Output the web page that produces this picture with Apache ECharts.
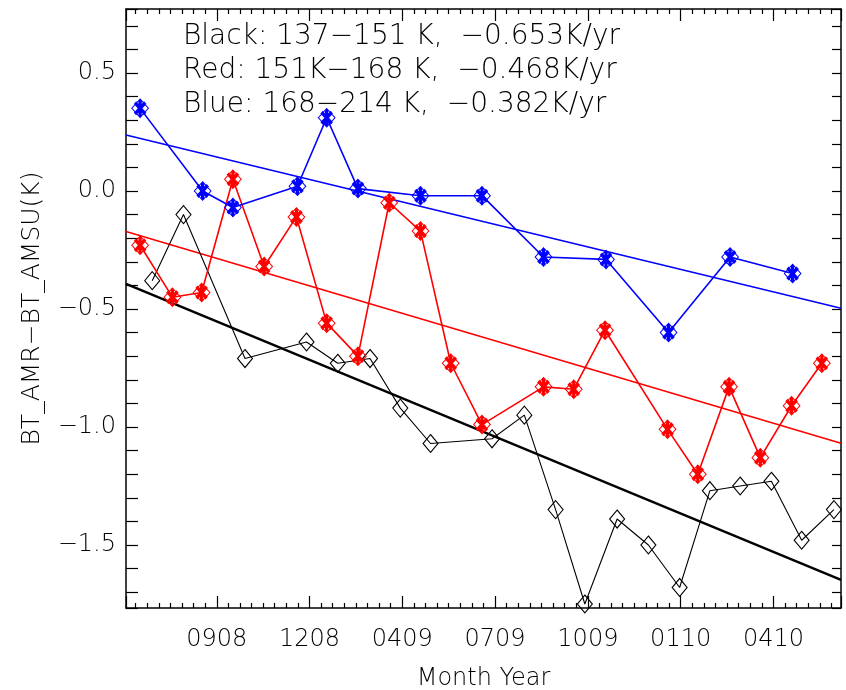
<!DOCTYPE html>
<html>
<head>
<meta charset="utf-8">
<script src="https://cdn.jsdelivr.net/npm/echarts@6/dist/echarts.min.js"></script>
<style>html,body{margin:0;padding:0;background:#fff;}#c{width:846px;height:690px;}</style>
</head>
<body>
<div id="c"></div>
<script>
// ---- data (x = days since the first axis tick origin) ----
const blackDays = [28,59,120,181,212,244,274,304,365,397,428,457,489,520,551,581,611,642,672,704];
const blackVals = [-0.38,-0.10,-0.71,-0.64,-0.73,-0.71,-0.92,-1.07,-1.05,-0.95,-1.35,-1.75,-1.39,-1.50,-1.68,-1.27,-1.25,-1.23,-1.48,-1.35];
const redDays = [16,48,77,108,139,171,201,232,263,294,324,355,416,446,477,539,569,600,631,662,692];
const redVals = [-0.23,-0.45,-0.43,0.05,-0.32,-0.11,-0.56,-0.70,-0.05,-0.17,-0.73,-0.99,-0.83,-0.84,-0.59,-1.01,-1.20,-0.83,-1.13,-0.91,-0.73];
const blueDays = [16,78,108,172,201,232,294,355,416,478,540,601,663];
const blueVals = [0.35,0.00,-0.07,0.02,0.31,0.01,-0.02,-0.02,-0.28,-0.29,-0.60,-0.28,-0.35];
const fitDays = [2,711];
const blackFit = [-0.394,-1.648];
const redFit = [-0.172,-1.069];
const blueFit = [0.237,-0.497];
const xTickDays = [92,184,276,368,460,552,644];
const xTickLabels = ['0908','1208','0409','0709','1009','0110','0410'];
const yTickValues = [-1.5,-1.0,-0.5,0.0,0.5];
const yTickLabels = ['\u22121.5','\u22121.0','\u22120.5','0.0','0.5'];
const annotationLines = ['Black: 137\u2212151 K,  \u22120.653K/yr','Red: 151K\u2212168 K,  \u22120.468K/yr','Blue: 168\u2212214 K,  \u22120.382K/yr'];

const FONT = 'DejaVu Sans';
// diamond ring + bold asterisk (vertical bar + two diagonals)
const starSym = 'path://M10 0L20 10L10 20L0 10Z M10 1.5L1.5 10L10 18.5L18.5 10Z ' +
  'M8.2 1.5L11.8 1.5L11.8 18.5L8.2 18.5Z ' +
  'M5.6 3.0L17.0 14.4L14.4 17.0L3.0 5.6Z ' +
  'M14.4 3.0L17.0 5.6L5.6 17.0L3.0 14.4Z';

function pairs(xs, ys){ return xs.map((x,i)=>[x, ys[i]]); }
function xLab(v){ for(let i=0;i<xTickDays.length;i++){ if(Math.abs(v-xTickDays[i])<1e-6) return xTickLabels[i]; } return ''; }
function yLab(v){ for(let i=0;i<yTickValues.length;i++){ if(Math.abs(v-yTickValues[i])<1e-6) return yTickLabels[i]; } return ''; }

const axLine = {show:true, onZero:false, lineStyle:{color:'#000', width:1.5}};
function xAx(pos, labels){
  return {type:'value', position:pos, min:fitDays[0], max:fitDays[1], minInterval:92, maxInterval:92, splitNumber:8,
    axisLine:axLine, axisTick:{show:true, inside:true, length:12, lineStyle:{color:'#000', width:1.2}},
    minorTick:{show:true, splitNumber:8, length:5, lineStyle:{color:'#000', width:1.2}},
    splitLine:{show:false}, minorSplitLine:{show:false},
    axisLabel:{show:labels, formatter:xLab, color:'#000', fontFamily:FONT, fontSize:24, fontWeight:200, margin:20, showMinLabel:true, showMaxLabel:true},
    name: labels ? 'Month Year' : '', nameLocation:'middle', nameGap:59,
    nameTextStyle:{color:'#000', fontFamily:FONT, fontSize:24, fontWeight:200}};
}
function yAx(pos, labels){
  return {type:'value', position:pos, min:-1.767, max:0.771, minInterval:0.1, maxInterval:0.1, splitNumber:25,
    axisLine:axLine, axisTick:{show:true, inside:true, length: labels?12:9, lineStyle:{color:'#000', width:1.2}},
    splitLine:{show:false},
    axisLabel:{show:labels, formatter:yLab, color:'#000', fontFamily:FONT, fontSize:24, fontWeight:200, margin:10},
    name: labels ? 'BT_AMR\u2212BT_AMSU(K)' : '', nameLocation:'middle', nameGap:81, nameRotate:90,
    nameTextStyle:{color:'#000', fontFamily:FONT, fontSize:25, fontWeight:200}};
}

const chart = echarts.init(document.getElementById('c'), null, {renderer:'canvas'});
chart.setOption({
  animation:false,
  backgroundColor:'#fff',
  grid:{left:126, right:5, top:9, bottom:82, containLabel:false, outerBoundsMode:'none'},
  xAxis:[xAx('bottom', true), xAx('top', false)],
  yAxis:[yAx('left', true), yAx('right', false)],
  graphic: annotationLines.map((t,i)=>({type:'text', left:183, top:[23,57,91][i], style:{text:t, fill:'#000', font:'200 28px "DejaVu Sans"'}})),
  series:[
    {type:'line', data:pairs(fitDays, blackFit), symbol:'none', lineStyle:{color:'#000', width:2.4}, silent:true, z:3},
    {type:'line', data:pairs(fitDays, redFit), symbol:'none', lineStyle:{color:'#ff0000', width:1.6}, silent:true, z:3},
    {type:'line', data:pairs(fitDays, blueFit), symbol:'none', lineStyle:{color:'#0000ff', width:1.6}, silent:true, z:3},
    {type:'line', data:pairs(blackDays, blackVals), symbol:'diamond', symbolSize:[15,18], clip:true,
      itemStyle:{color:'rgba(0,0,0,0)', borderColor:'#000', borderWidth:1.1}, lineStyle:{color:'#000', width:1.1}, silent:true, z:4},
    {type:'line', data:pairs(redDays, redVals), symbol:starSym, symbolSize:[18,20], clip:true,
      itemStyle:{color:'#ff0000'}, lineStyle:{color:'#ff0000', width:1.6}, silent:true, z:5},
    {type:'line', data:pairs(blueDays, blueVals), symbol:starSym, symbolSize:[18,20], clip:true,
      itemStyle:{color:'#0000ff'}, lineStyle:{color:'#0000ff', width:1.6}, silent:true, z:6}
  ]
});
</script>
</body>
</html>
